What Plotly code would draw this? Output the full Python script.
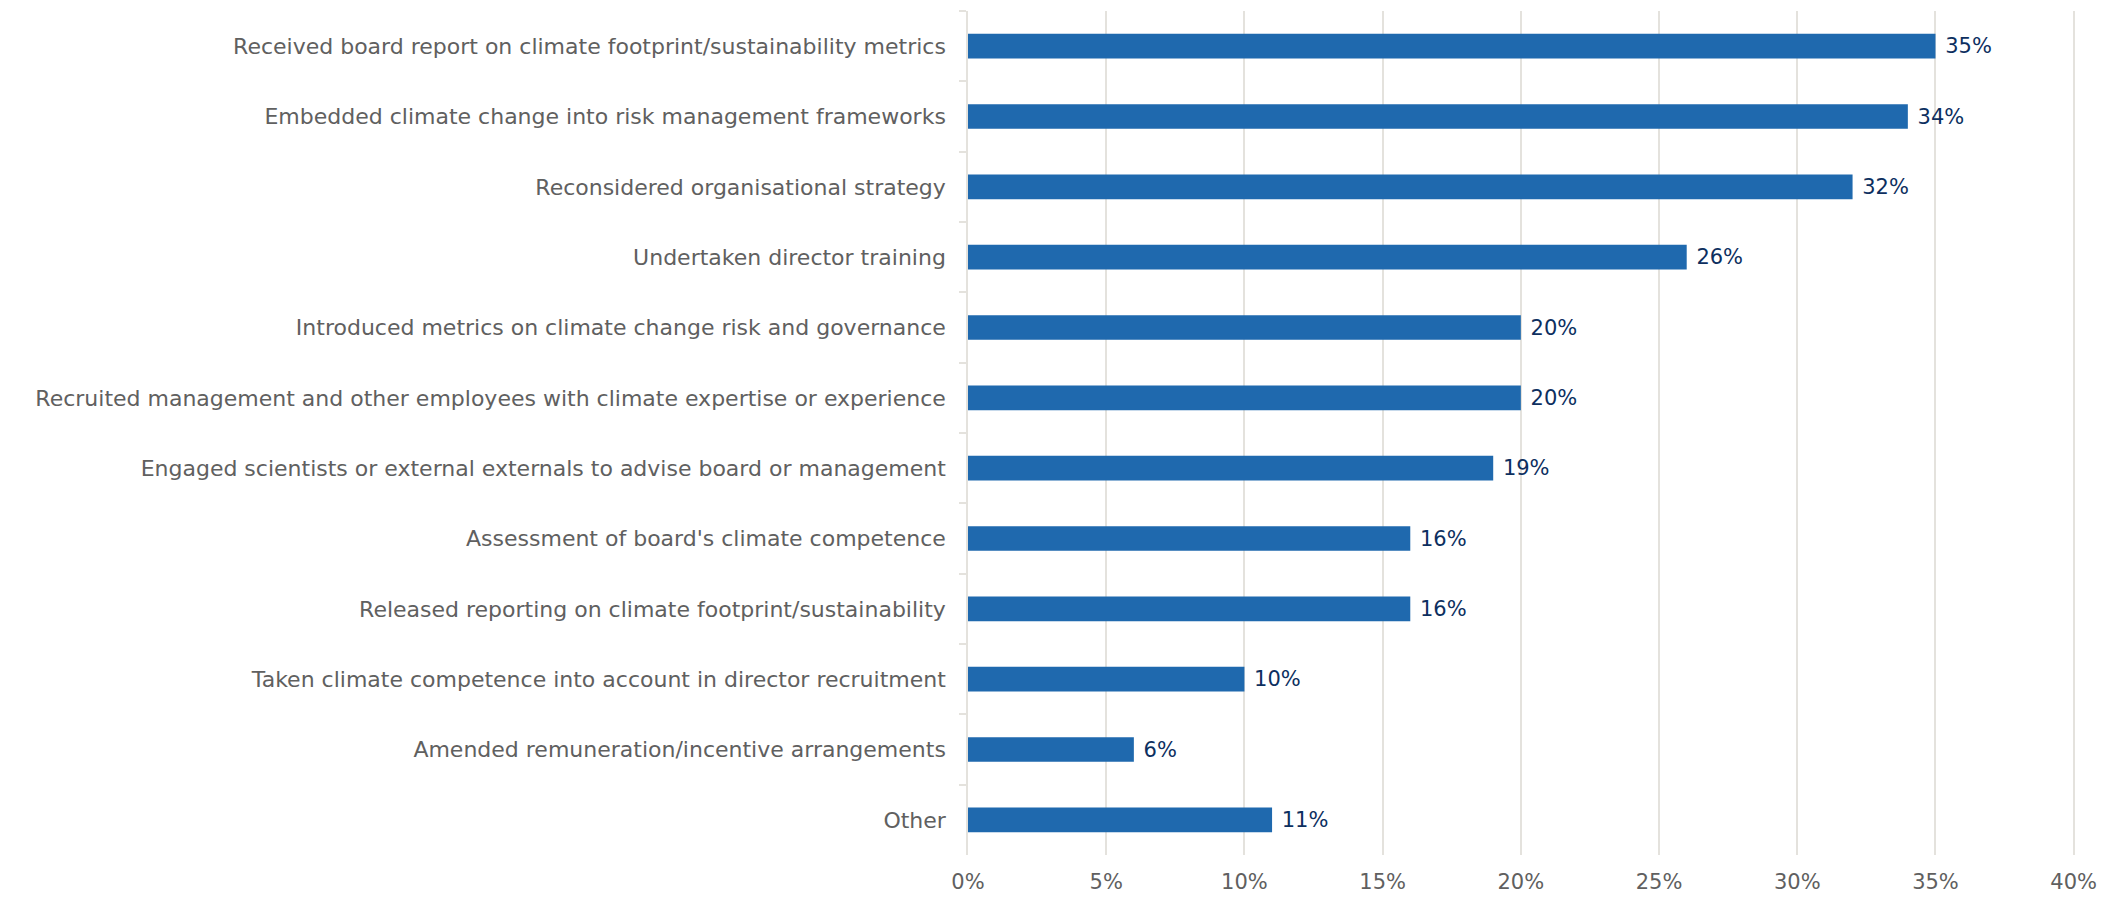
import plotly.graph_objects as go

actions = [
    "Received board report on climate footprint/sustainability metrics",
    "Embedded climate change into risk management frameworks",
    "Reconsidered organisational strategy",
    "Undertaken director training",
    "Introduced metrics on climate change risk and governance",
    "Recruited management and other employees with climate expertise or experience",
    "Engaged scientists or external externals to advise board or management",
    "Assessment of board's climate competence",
    "Released reporting on climate footprint/sustainability",
    "Taken climate competence into account in director recruitment",
    "Amended remuneration/incentive arrangements",
    "Other",
]
shares = [35, 34, 32, 26, 20, 20, 19, 16, 16, 10, 6, 11]
tick_vals = [0, 5, 10, 15, 20, 25, 30, 35, 40]
tick_text = [f"{v}%" for v in tick_vals]

fig = go.Figure(go.Bar(
    x=shares,
    y=actions,
    orientation="h",
    width=0.35,
    marker=dict(color="#1f69ae", line=dict(width=0)),
    text=[f"\u00a0{v}%" for v in shares],
    textposition="outside",
    constraintext="none",
    textfont=dict(color="#0d2f5f", size=21),
    cliponaxis=False,
))

# page body has an 8px margin, so the figure is sized 16px smaller
fig.update_layout(
    width=2092, height=889,
    margin=dict(l=960, r=12, t=3, b=33),
    plot_bgcolor="white", paper_bgcolor="white",
    font=dict(family="DejaVu Sans", size=21, color="#606060"),
    showlegend=False,
    bargap=0.65,
)
fig.update_xaxes(
    range=[0, 40.3], tickvals=tick_vals, ticktext=tick_text,
    showgrid=True, gridcolor="#e4e2dd", gridwidth=1.5,
    zeroline=False, showline=False, ticks="",
    ticklabelstandoff=12, ticklabeloverflow="allow",
    tickfont=dict(size=21, color="#606060"),
)
fig.update_yaxes(
    autorange="reversed",
    showline=True, linecolor="#e4e2dd", linewidth=1.5,
    ticks="outside", tickson="boundaries", ticklen=7, tickcolor="#e4e2dd", tickwidth=1.5,
    ticklabelstandoff=16,
    tickfont=dict(size=22, color="#606060"),
)

fig.write_html("out.html")
